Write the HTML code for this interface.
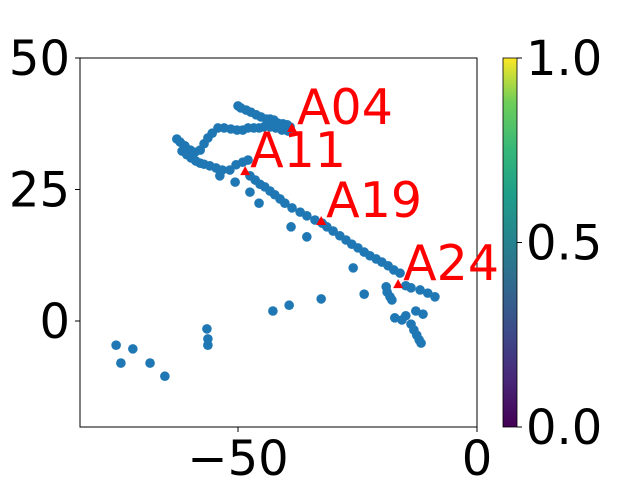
<!DOCTYPE html>
<html><head><meta charset="utf-8"><style>
body{margin:0;background:#fff}
svg{display:block}
text{font-family:"DejaVu Sans","Liberation Sans",sans-serif}
</style></head><body>
<svg id="c" width="640" height="480">
<defs><linearGradient id="vir" x1="0" y1="1" x2="0" y2="0">
<stop offset="0" stop-color="#440154"/><stop offset="0.13" stop-color="#482878"/><stop offset="0.25" stop-color="#3e4989"/><stop offset="0.38" stop-color="#31688e"/><stop offset="0.5" stop-color="#26828e"/><stop offset="0.63" stop-color="#1f9e89"/><stop offset="0.75" stop-color="#35b779"/><stop offset="0.88" stop-color="#6ece58"/><stop offset="1" stop-color="#fde725"/>
</linearGradient></defs>
<rect x="80" y="58" width="397" height="369" fill="#fff" stroke="#000" stroke-width="1"/>
<g id="pts"></g><g id="marks"></g><g id="ticks"></g>
<rect x="503" y="58" width="14" height="369" fill="url(#vir)" stroke="#000" stroke-width="0.8"/>
</svg>
<script>
const xs=[-50.0,-49.4,-48.3,-47.3,-46.2,-45.2,-44.1,-43.3,-42.5,-41.6,-40.6,-39.7,-39.1,
-54.2,-52.9,-51.5,-50.2,-49.0,-47.9,-46.7,-45.6,-44.6,-43.3,-42.1,-40.8,-39.5,
-62.8,-62.1,-61.1,-60.0,-59.0,-57.9,-57.1,-56.3,-55.4,
-61.7,-60.7,-59.8,-58.8,-57.9,-57.1,-55.9,-54.6,-53.3,-51.7,-50.4,-49.0,-47.9,
-47.5,-46.4,-45.4,-44.4,-43.3,-42.3,-41.2,-40.2,-38.7,-37.0,-35.6,-33.9,-32.4,-31.4,-30.1,-28.7,-27.4,-26.2,-24.9,-23.6,-22.4,-21.1,-19.9,-18.6,-17.4,-16.1,
-53.8,-50.6,-47.5,-45.6,-38.9,-35.6,-25.9,-23.6,-32.6,-39.3,-42.7,
-19.0,-18.8,-18.2,-17.8,-14.9,-13.8,-11.9,-10.3,-8.8,-17.2,-15.7,-14.9,-13.8,-13.2,-12.6,-12.1,-11.7,-12.8,-11.3,
-75.5,-74.5,-72.0,-68.4,-65.3,-56.5,-56.3,-56.3];
const ys=[40.9,40.5,40.1,39.7,39.2,38.8,38.4,38.4,38.2,37.6,37.5,37.3,36.9,
36.7,36.7,36.5,36.3,36.3,36.7,36.7,36.7,36.9,36.9,36.7,36.3,36.1,
34.6,34.0,33.3,32.5,32.1,32.5,33.7,34.8,35.7,
32.3,31.6,31.0,30.4,30.0,29.8,29.5,29.1,28.7,28.7,29.7,30.2,30.6,
27.6,26.8,26.0,25.5,24.7,24.0,23.2,22.4,21.5,20.7,20.0,19.2,18.6,17.9,17.1,16.2,15.4,14.6,13.9,13.1,12.4,11.8,11.2,10.5,9.7,9.1,
27.6,26.4,24.5,22.4,17.9,16.0,10.1,5.1,4.2,3.0,1.9,
6.5,5.5,4.6,4.0,6.7,6.3,5.9,5.3,4.6,0.6,0.2,1.0,-0.6,-1.7,-2.7,-3.6,-4.2,1.9,1.3,
-4.6,-8.0,-5.3,-8.0,-10.5,-1.5,-3.4,-4.6];
const labels=["A04","A11","A19","A24"];
const lx=[-38.7,-48.5,-32.6,-16.5];
const ly=[36.7,28.5,19.0,7.0];
const xTicks=[-50,0];
const xTickLabels=["\u221250","0"];
const yTicks=[0,25,50];
const yTickLabels=["0","25","50"];
const cTicks=[0,0.5,1];
const cTickLabels=["0.0","0.5","1.0"];
const X=v=>477+v*4.78, Y=v=>321-v*5.26, C=v=>427-v*369;
const NS="http://www.w3.org/2000/svg";
function mk(p,t,a){const e=document.createElementNS(NS,t);for(const k in a)e.setAttribute(k,a[k]);p.appendChild(e);return e;}
const pts=document.getElementById('pts'),marks=document.getElementById('marks'),tk=document.getElementById('ticks');
xs.forEach((x,i)=>{const c=mk(pts,'circle',{cx:X(x),cy:Y(ys[i]),r:4.8,fill:'#1f77b4'});

});
labels.forEach((l,i)=>{const px=X(lx[i]),py=Y(ly[i]);
const m=mk(marks,'polygon',{points:`${px},${py-5} ${px-5},${py+4} ${px+5},${py+4}`,fill:'red'});


const t=mk(marks,'text',{x:px+5,y:py-4,'font-size':49,fill:'red'});t.textContent=l;

});
xTicks.forEach((v,i)=>{mk(tk,'line',{x1:X(v),x2:X(v),y1:427,y2:432,stroke:'#000'});
const t=mk(tk,'text',{x:X(v),y:475,'font-size':48,'text-anchor':'middle'});t.textContent=xTickLabels[i];

});
yTicks.forEach((v,i)=>{mk(tk,'line',{x1:75,x2:80,y1:Y(v),y2:Y(v),stroke:'#000'});
const t=mk(tk,'text',{x:70,y:Y(v)+17,'font-size':48,'text-anchor':'end'});t.textContent=yTickLabels[i];

});
cTicks.forEach((v,i)=>{mk(tk,'line',{x1:517,x2:522,y1:C(v),y2:C(v),stroke:'#000'});
const t=mk(tk,'text',{x:526,y:C(v)+17,'font-size':48});t.textContent=cTickLabels[i];

});
</script>
</body></html>
